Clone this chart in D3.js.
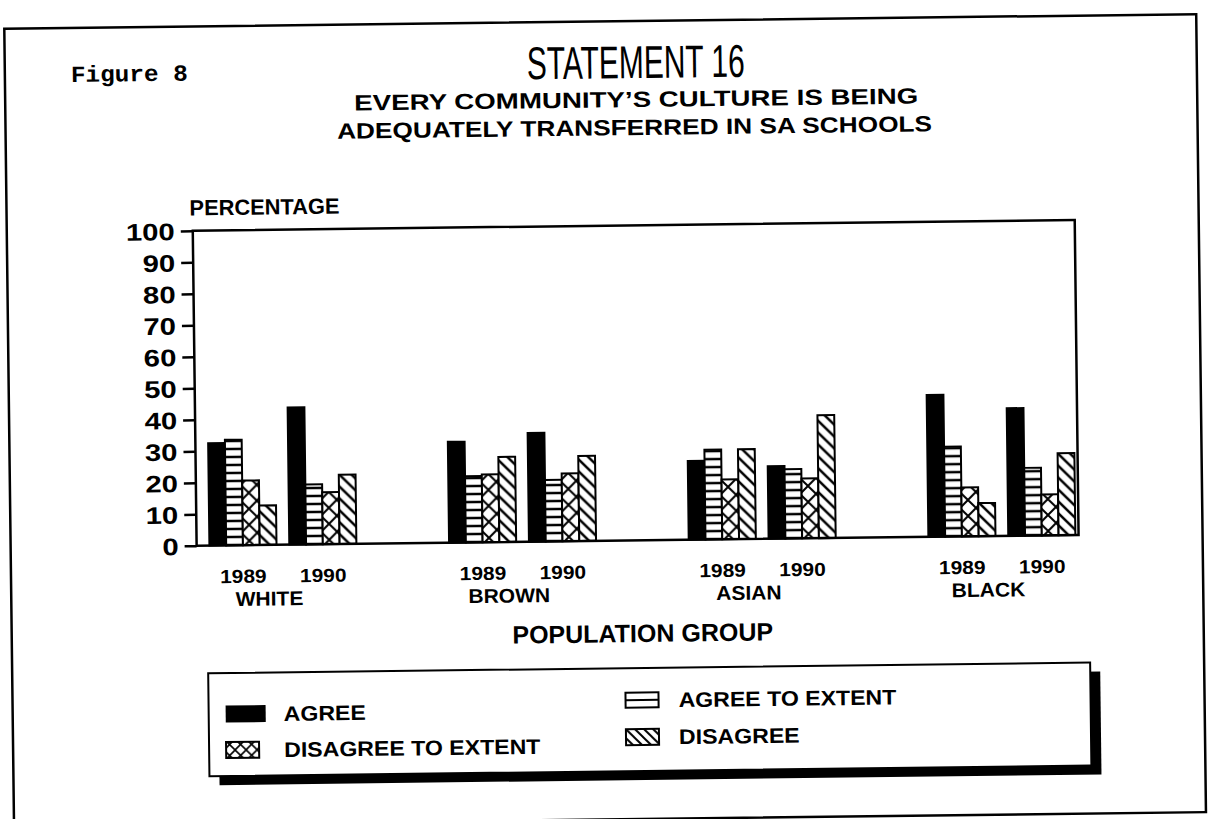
<!DOCTYPE html>
<html>
<head>
<meta charset="utf-8">
<script src="https://cdn.jsdelivr.net/npm/d3@7"></script>
<style>
html, body { margin: 0; padding: 0; background: #fff; }
svg { display: block; }
text { font-family: 'Liberation Sans', Arial, sans-serif; fill: #000; }
.b { font-weight: bold; }
</style>
</head>
<body>
<div id="chart"></div>
<script>
var groups = ['WHITE', 'BROWN', 'ASIAN', 'BLACK'];
var years = ['1989', '1990'];
var series = ['AGREE', 'AGREE TO EXTENT', 'DISAGREE TO EXTENT', 'DISAGREE'];
// one value per group/year: white 89, white 90, brown 89, brown 90, asian 89, asian 90, black 89, black 90
var agree = [32.5, 43.5, 32, 34.5, 25, 23, 45, 40.5];
var agreeExtent = [33.5, 19, 21, 19.5, 28.5, 22, 28.5, 21.5];
var disagreeExtent = [20.5, 16.5, 21.5, 21.5, 19, 19, 15.5, 13];
var disagree = [12.5, 22, 27, 27, 28.5, 39, 10.5, 26];
var yTicks = [0, 10, 20, 30, 40, 50, 60, 70, 80, 90, 100];

(function() {
	var width = 1209, height = 819;
	var values = [agree, agreeExtent, disagreeExtent, disagree];
	var fills = ['#000', 'url(#hlines)', 'url(#cross)', 'url(#diag)'];

	var svg = d3.select('#chart').append('svg')
		.attr('width', width)
		.attr('height', height);

	// patterns
	var defs = svg.append('defs');
	function pattern(id, w, h, d, sw) {
		var p = defs.append('pattern')
			.attr('id', id)
			.attr('patternUnits', 'userSpaceOnUse')
			.attr('width', w)
			.attr('height', h);
		p.append('rect').attr('width', w).attr('height', h).attr('fill', '#fff');
		p.append('path').attr('d', d).attr('stroke', '#000').attr('stroke-width', sw).attr('fill', 'none');
	}
	pattern('hlines', 10, 8, 'M-1,4H11', 2.5);
	pattern('cross', 16, 16, 'M-2,-2L18,18M18,-2L-2,18', 2);
	pattern('diag', 12, 12, 'M-2,-2L14,14M-5,7L5,17M7,-5L17,5', 2.5);
	pattern('cross-s', 11, 11, 'M-2,-2L13,13M13,-2L-2,13', 1.6);
	pattern('diag-s', 9, 9, 'M-2,-2L11,11M-4,5L4,13M5,-4L13,4', 2);

	// scan is a little skewed
	var root = svg.append('g').attr('transform', 'rotate(-0.7 640 410)');

	// stretch text horizontally to the wide plotter lettering
	function stretch(sel, f) {
		sel.each(function() {
			var len = this.getComputedTextLength();
			d3.select(this).attr('textLength', len * f).attr('lengthAdjust', 'spacingAndGlyphs');
		});
	}
	function fit(sel, w) {
		sel.attr('textLength', w).attr('lengthAdjust', 'spacingAndGlyphs');
	}

	// outer frame
	root.append('rect')
		.attr('x', 9).attr('y', 21)
		.attr('width', 1192).attr('height', 798)
		.attr('fill', 'none').attr('stroke', '#000').attr('stroke-width', 2.5);

	// titles
	root.append('text')
		.attr('x', 75).attr('y', 75)
		.style('font-family', "'Liberation Mono', 'Courier New', monospace")
		.style('font-weight', 'bold')
		.style('font-size', '23px')
		.text('Figure 8')
		.call(fit, 117);
	root.append('text')
		.attr('x', 640).attr('y', 78)
		.attr('text-anchor', 'middle')
		.style('font-size', '46px')
		.text('STATEMENT 16')
		.call(fit, 218);
	root.append('text').attr('class', 'b')
		.attr('x', 640).attr('y', 107)
		.attr('text-anchor', 'middle')
		.style('font-size', '22px')
		.text('EVERY COMMUNITY\u2019S CULTURE IS BEING')
		.call(fit, 564);
	root.append('text').attr('class', 'b')
		.attr('x', 638).attr('y', 135)
		.attr('text-anchor', 'middle')
		.style('font-size', '22px')
		.text('ADEQUATELY TRANSFERRED IN SA SCHOOLS')
		.call(fit, 595);

	// plot area
	var left = 195, right = 1077, top = 225.3, base = 540.3;
	var y = d3.scaleLinear().domain([0, 100]).range([base, top]);

	var slots = [];
	groups.forEach(function(g, gi) {
		years.forEach(function(yr) { slots.push(g + '|' + yr); });
		if(gi < groups.length - 1) slots.push('gap' + gi);
	});
	var x = d3.scaleBand()
		.domain(slots)
		.range([left, right])
		.paddingInner(0.16)
		.paddingOuter(0.1)
		.align(0.8);
	var xs = d3.scaleBand().domain(series).range([0, x.bandwidth()]);

	var clusters = [];
	groups.forEach(function(g, gi) {
		years.forEach(function(yr, yi) {
			var k = gi * years.length + yi;
			clusters.push({
				key: g + '|' + yr,
				year: yr,
				bars: series.map(function(s, si) { return { s: s, v: values[si][k], fill: fills[si] }; })
			});
		});
	});

	var cl = root.append('g').selectAll('g')
		.data(clusters)
		.enter().append('g')
		.attr('transform', function(d) { return 'translate(' + x(d.key) + ',0)'; });
	cl.selectAll('rect')
		.data(function(d) { return d.bars; })
		.enter().append('rect')
		.attr('x', function(d) { return xs(d.s); })
		.attr('y', function(d) { return y(d.v); })
		.attr('width', xs.bandwidth())
		.attr('height', function(d) { return y(0) - y(d.v); })
		.attr('fill', function(d) { return d.fill; })
		.attr('stroke', '#000')
		.attr('stroke-width', 2);

	// frame of the plot
	root.append('path')
		.attr('d', 'M' + left + ',' + base + 'V' + top + 'H' + right + 'V' + base + 'Z')
		.attr('fill', 'none').attr('stroke', '#000').attr('stroke-width', 2.5);

	// y axis
	var ax = root.append('g')
		.attr('transform', 'translate(' + left + ',0)')
		.call(d3.axisLeft(y).tickValues(yTicks).tickSize(12).tickPadding(6));
	ax.select('.domain').remove();
	ax.selectAll('line').attr('stroke', '#000').attr('stroke-width', 2.5);
	ax.selectAll('text')
		.attr('class', 'b')
		.attr('fill', '#000')
		.style('font-family', "'Liberation Sans', Arial, sans-serif")
		.style('font-size', '24px')
		.attr('dy', '0.36em')
		.call(stretch, 1.22);

	root.append('text').attr('class', 'b')
		.attr('x', 192).attr('y', 210)
		.style('font-size', '22px')
		.text('PERCENTAGE')
		.call(fit, 150);

	// x labels
	root.append('g').selectAll('text')
		.data(clusters)
		.enter().append('text').attr('class', 'b')
		.attr('x', function(d) { return x(d.key) + x.bandwidth() / 2; })
		.attr('y', 578)
		.attr('text-anchor', 'middle')
		.style('font-size', '19px')
		.text(function(d) { return d.year; })
		.call(stretch, 1.1);
	root.append('g').selectAll('text')
		.data(groups)
		.enter().append('text').attr('class', 'b')
		.attr('x', function(d) {
			var a = x(d + '|' + years[0]), b = x(d + '|' + years[1]) + x.bandwidth();
			return (a + b) / 2 - 14;
		})
		.attr('y', 601)
		.attr('text-anchor', 'middle')
		.style('font-size', '20px')
		.text(function(d) { return d; })
		.call(stretch, 1.05);

	root.append('text').attr('class', 'b')
		.attr('x', 640).attr('y', 642)
		.attr('text-anchor', 'middle')
		.style('font-size', '25px')
		.text('POPULATION GROUP');

	// legend
	var lg = root.append('g');
	lg.append('rect')
		.attr('x', 215).attr('y', 677)
		.attr('width', 882).attr('height', 103)
		.attr('fill', '#000');
	lg.append('rect')
		.attr('x', 205).attr('y', 668)
		.attr('width', 882).attr('height', 103)
		.attr('fill', '#fff').attr('stroke', '#000').attr('stroke-width', 2);

	var legendPos = [
		{ sx: 222, sw: 40, cy: 709, tx: 280 },
		{ sx: 622, sw: 33, cy: 700, tx: 675 },
		{ sx: 222, sw: 33, cy: 745, tx: 280 },
		{ sx: 622, sw: 33, cy: 737, tx: 675 }
	];
	var item = lg.selectAll('g.item')
		.data(series)
		.enter().append('g')
		.attr('class', 'item')
		.attr('transform', function(d, i) { return 'translate(0,' + legendPos[i].cy + ')'; });
	item.each(function(d, i) {
		var g = d3.select(this), p = legendPos[i];
		if(i === 0) {
			g.append('rect').attr('x', p.sx).attr('y', -8.5).attr('width', p.sw).attr('height', 17).attr('fill', '#000');
		} else if(i === 1) {
			g.append('rect').attr('x', p.sx).attr('y', -7.5).attr('width', p.sw).attr('height', 15)
				.attr('fill', '#fff').attr('stroke', '#000').attr('stroke-width', 2);
			g.append('line').attr('x1', p.sx).attr('x2', p.sx + p.sw).attr('y1', 0).attr('y2', 0)
				.attr('stroke', '#000').attr('stroke-width', 2);
		} else {
			g.append('rect').attr('x', p.sx).attr('y', -8).attr('width', p.sw).attr('height', 16)
				.attr('fill', i === 2 ? 'url(#cross-s)' : 'url(#diag-s)')
				.attr('stroke', '#000').attr('stroke-width', 2);
		}
		g.append('text').attr('class', 'b')
			.attr('x', p.tx).attr('y', 0)
			.attr('dy', '0.36em')
			.style('font-size', '21px')
			.text(d)
			.call(stretch, 1.1);
	});
})();
</script>
</body>
</html>
